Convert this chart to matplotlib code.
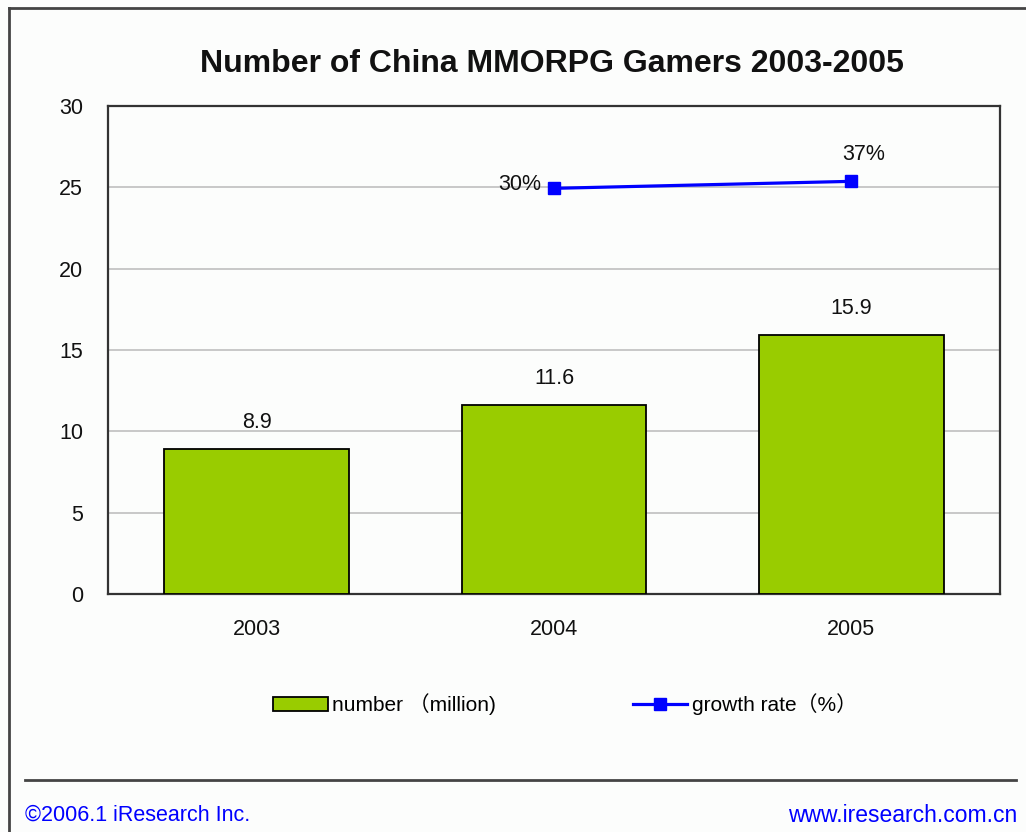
import matplotlib
matplotlib.use("Agg")
import matplotlib.pyplot as plt
from matplotlib.lines import Line2D
from matplotlib.patches import Patch

plt.rcParams['font.family'] = ['Liberation Sans', 'Noto Sans CJK SC', 'DejaVu Sans']

years = ["2003", "2004", "2005"]
gamers = [8.9, 11.6, 15.9]          # million
growth_years = ["2004", "2005"]
growth = [30, 37]                   # percent

BG = "#FCFDFC"
BAR = "#99CC00"
BLUE = "#0000FF"
TXT = "#111111"
FS = 15.5

fig = plt.figure(figsize=(10.26, 8.32), dpi=100, facecolor=BG)
W, H = 1026, 832

def fx(px):
    return px / W

def fy(py):
    return 1 - py / H

ax = fig.add_axes([fx(108), fy(594), fx(1000) - fx(108), fy(106) - fy(594)])
ax.set_facecolor(BG)

x = list(range(len(years)))
ax.bar(x, gamers, width=0.62, color=BAR, edgecolor="black", linewidth=1.3, zorder=3)
for xi, v in zip(x, gamers):
    ax.annotate(f"{v}", (xi, v), xytext=(0, 12), textcoords="offset points",
                ha="center", va="bottom", fontsize=FS, color=TXT)

ax.set_xlim(-0.5, len(years) - 0.5)
ax.set_ylim(0, 30)
ax.set_yticks(range(0, 31, 5))
ax.set_xticks(x)
ax.set_xticklabels(years)
ax.tick_params(axis="both", length=0, labelsize=FS, colors=TXT)
ax.tick_params(axis="y", pad=18)
ax.tick_params(axis="x", pad=18)
ax.yaxis.grid(True, color="#C4C4C4", linewidth=1.3, zorder=0)
ax.set_axisbelow(True)
for s in ax.spines.values():
    s.set_color("#333333")
    s.set_linewidth(1.6)

# growth rate on a hidden secondary scale
ax2 = ax.twinx()
ax2.set_ylim(-376, 112.4)
ax2.axis("off")
gx = [years.index(y) for y in growth_years]
ax2.plot(gx, growth, color=BLUE, linewidth=2.3, marker="s", markersize=8, zorder=5)
ax2.annotate(f"{growth[0]}%", (gx[0], growth[0]), xytext=(-9, 3), textcoords="offset points",
             ha="right", va="center", fontsize=FS, color=TXT)
ax2.annotate(f"{growth[1]}%", (gx[1], growth[1]), xytext=(9, 12), textcoords="offset points",
             ha="center", va="bottom", fontsize=FS, color=TXT)

fig.text(fx(552), fy(64), "Number of China MMORPG Gamers 2003-2005",
         ha="center", va="center", fontsize=23, fontweight="bold", color=TXT)

handles = [
    Patch(facecolor=BAR, edgecolor="black", linewidth=1.3),
    Line2D([0], [0], color=BLUE, linewidth=2.3, marker="s", markersize=8),
]
labels = ["number （million)", "growth rate（%）"]
fig.legend(handles, labels, loc="center", bbox_to_anchor=(fx(565), fy(704)), ncol=2,
           frameon=False, fontsize=15, handlelength=2.6, handleheight=0.67,
           handletextpad=0.2, columnspacing=6.6)

# outer frame and footer
fig.add_artist(Line2D([fx(9), fx(9)], [fy(8), 0], color="#444444", linewidth=2))
fig.add_artist(Line2D([fx(9), 1], [fy(8), fy(8)], color="#444444", linewidth=2))
fig.add_artist(Line2D([fx(25), fx(1016)], [fy(780), fy(780)], color="#444444", linewidth=2))
fig.text(fx(25), fy(815), "©2006.1 iResearch Inc.", ha="left", va="center",
         fontsize=15.5, color=BLUE)
fig.text(fx(1017), fy(815), "www.iresearch.com.cn", ha="right", va="center",
         fontsize=16.5, color=BLUE)

fig.savefig("out.png", dpi=100, facecolor=BG)
